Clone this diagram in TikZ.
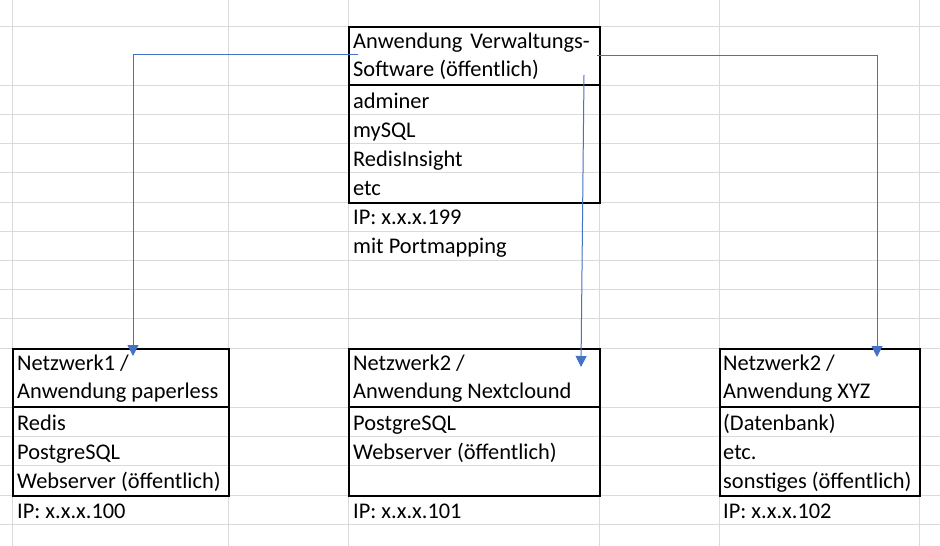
\documentclass[tikz,border=0pt]{standalone}
\usepackage{fontspec}
\setmainfont{Carlito}
\usetikzlibrary{arrows.meta}
\definecolor{gridgray}{HTML}{DADADA}
\definecolor{conblue}{HTML}{4472C4}
\begin{document}
\begin{tikzpicture}[x=1pt,y=-1pt,
  cellbox/.style={draw=black,line width=1.8pt,rectangle,inner sep=0pt,anchor=north west},
  divider/.style={draw=black,line width=1.8pt},
  txt/.style={anchor=base west,inner sep=0pt,font=\fontsize{22.4}{26}\selectfont},
  conn/.style={draw=conblue,line width=1pt,-{Triangle[length=11pt,width=11pt]}},
  gridline/.style={draw=gridgray,line width=1pt}]
\useasboundingbox (0,0) rectangle (940,546);
\fill[white] (0,0) rectangle (940,546);
% spreadsheet grid
\foreach \x in {12,228,348,599,719,919} \draw[gridline] (\x,0) -- (\x,546);
\foreach \y in {26,85,114,143,172,202,231,260,289,318,348,407,436,465,495,524} \draw[gridline] (0,\y) -- (940,\y);
% top box
\node[cellbox,minimum width=251pt,minimum height=176pt] (top) at (348,26) {};
\draw[divider] (348,85) -- (599,85);
\node[txt] (ta) at (353,48.5) {Anwendung\hspace{8pt}Verwaltungs-};
\node[txt] (tb) at (353,76) {Software (öffentlich)};
\node[txt] (tc) at (353,108) {adminer};
\node[txt] (td) at (353,137) {mySQL};
\node[txt] (te) at (353,166) {RedisInsight};
\node[txt] (tf) at (353,195) {etc};
\node[txt] (tg) at (353,224) {IP: x.x.x.199};
\node[txt] (th) at (353,253) {mit Portmapping};
% box 1
\node[cellbox,minimum width=216pt,minimum height=147pt] (b1) at (12,348) {};
\draw[divider] (12,407) -- (228,407);
\node[txt] (b1a) at (17,370) {Netzwerk1 /};
\node[txt] (b1b) at (17,398) {Anwendung paperless};
\node[txt] (b1c) at (17,430) {Redis};
\node[txt] (b1d) at (17,459) {PostgreSQL};
\node[txt] (b1e) at (17,488) {Webserver (öffentlich)};
\node[txt] (b1f) at (17,518) {IP: x.x.x.100};
% box 2
\node[cellbox,minimum width=251pt,minimum height=147pt] (b2) at (348,348) {};
\draw[divider] (348,407) -- (599,407);
\node[txt] (b2a) at (353,370) {Netzwerk2 /};
\node[txt] (b2b) at (353,398) {Anwendung Nextclound};
\node[txt] (b2c) at (353,430) {PostgreSQL};
\node[txt] (b2d) at (353,459) {Webserver (öffentlich)};
\node[txt] (b2f) at (353,518) {IP: x.x.x.101};
% box 3
\node[cellbox,minimum width=200pt,minimum height=147pt] (b3) at (719,348) {};
\draw[divider] (719,407) -- (919,407);
\node[txt] (b3a) at (723,370) {Netzwerk2 /};
\node[txt] (b3b) at (723,398) {Anwendung XYZ};
\node[txt] (b3c) at (723,430) {(Datenbank)};
\node[txt] (b3d) at (723,459) {etc.};
\node[txt] (b3e) at (723,488) {sonstiges (öffentlich)};
\node[txt] (b3f) at (723,518) {IP: x.x.x.102};
% connectors
\coordinate (s1) at (358,54);
\coordinate (e1) at (133,356);
\coordinate (s2) at (597,55.5);
\coordinate (e2) at (877,357);
\coordinate (s3) at (584,75);
\coordinate (e3) at (581,367);
\draw[conn] (s1) -| (e1);
\draw[conn] (s2) -| (e2);
\draw[conn] (s3) -- (e3);
\end{tikzpicture}
\end{document}
